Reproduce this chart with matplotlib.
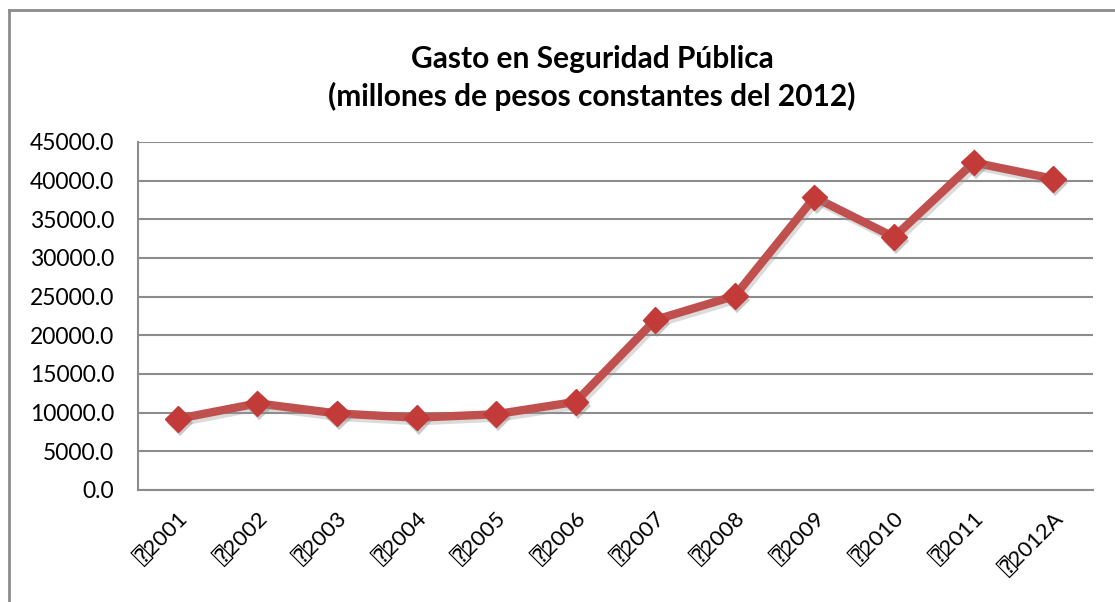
import matplotlib
matplotlib.use("Agg")
import matplotlib.pyplot as plt
import matplotlib.patheffects as pe
from matplotlib.ticker import MultipleLocator, FuncFormatter

years = ["\u23702001", "\u23702002", "\u23702003", "\u23702004", "\u23702005", "\u23702006",
         "\u23702007", "\u23702008", "\u23702009", "\u23702010", "\u23702011", "\u23702012A"]
gasto = [9200, 11200, 9900, 9350, 9800, 11400, 22000, 25100, 37850, 32700, 42350, 40250]

title = "Gasto en Seguridad Pública\n(millones de pesos constantes del 2012)"

plt.rcParams['font.family'] = ['Lato', 'DejaVu Sans', 'DejaVu Sans Mono']

W, H = 1115, 602
fig = plt.figure(figsize=(W / 100, H / 100), dpi=100)

# outer chart-area border (left and top edges)
fig.add_artist(plt.Line2D([9 / W, 9 / W], [0, 1 - 10 / H], transform=fig.transFigure,
                          color="#8c8c8c", lw=2))
fig.add_artist(plt.Line2D([9 / W, 1], [1 - 10 / H, 1 - 10 / H], transform=fig.transFigure,
                          color="#8c8c8c", lw=2))

left, right, top, bottom = 138, 1093, 142, 490
ax = fig.add_axes([left / W, 1 - bottom / H, (right - left) / W, (bottom - top) / H])

x = list(range(len(years)))
ax.plot(x, gasto, color="#C0504D", lw=6, solid_joinstyle="round", solid_capstyle="round",
        zorder=3,
        path_effects=[pe.SimpleLineShadow(offset=(1.5, -2.5), shadow_color="#999999", alpha=0.35),
                      pe.Normal()])
ax.plot(x, gasto, linestyle="none", marker="D", markersize=13, zorder=4,
        markerfacecolor="#C33B38", markeredgecolor="#C33B38",
        path_effects=[pe.SimplePatchShadow(offset=(1.5, -3), shadow_rgbFace="#888888", alpha=0.45),
                      pe.Normal()])

ax.set_xlim(-0.5, len(years) - 0.5)
ax.set_ylim(0, 45000)
ax.yaxis.set_major_locator(MultipleLocator(5000))
ax.yaxis.set_major_formatter(FuncFormatter(lambda v, p: f"{v:.1f}"))
ax.grid(axis="y", color="#8c8c8c", lw=1.5)
ax.set_axisbelow(True)

for s in ["top", "right"]:
    ax.spines[s].set_visible(False)
for s in ["left", "bottom"]:
    ax.spines[s].set_color("#8c8c8c")
    ax.spines[s].set_linewidth(1.5)

ax.set_xticks(x)
ax.set_xticklabels(years, rotation=45, ha="right", rotation_mode="anchor", fontsize=16)
ax.tick_params(axis="both", length=0, colors="black")
ax.tick_params(axis="y", labelsize=16.5, pad=17)
ax.tick_params(axis="x", pad=13)

fig.text(592 / W, 1 - 78 / H, title, ha="center", va="center", fontsize=21.5,
         fontweight="bold", linespacing=1.35)

fig.savefig("out.png", dpi=100)
